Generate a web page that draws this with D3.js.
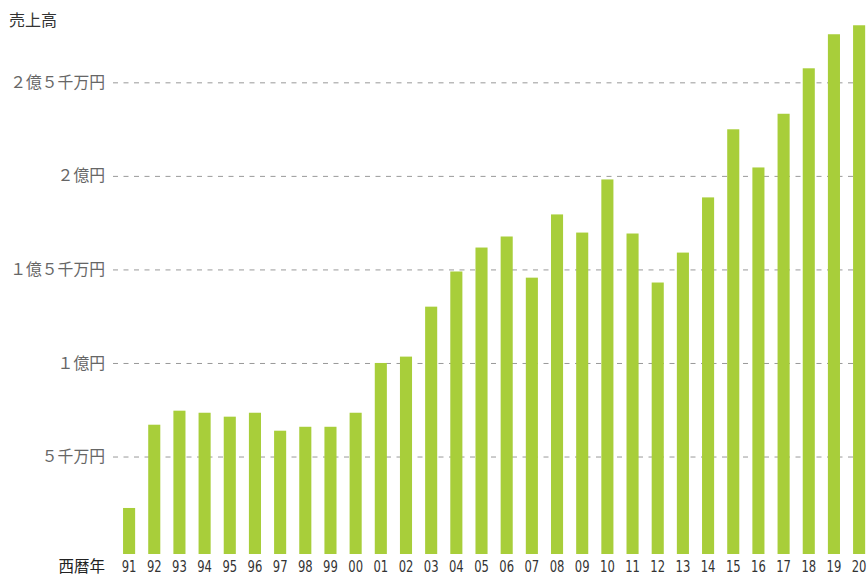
<!DOCTYPE html>
<html>
<head>
<meta charset="utf-8">
<script src="https://cdn.jsdelivr.net/npm/d3@7"></script>
<style>
  body { margin: 0; background: #fff; }
  svg { display: block; }
</style>
</head>
<body>
<div id="chart"></div>
<script>
// years (西暦の下2桁) and sales in 百万円
var years = ["91","92","93","94","95","96","97","98","99","00",
             "01","02","03","04","05","06","07","08","09","10",
             "11","12","13","14","15","16","17","18","19","20"];
var sales = [22.5, 67.0, 74.5, 73.4, 71.3, 73.4, 63.8, 65.9, 65.9, 73.4,
             100.0, 103.4, 130.1, 148.9, 161.7, 167.6, 145.6, 179.4, 169.7, 198.1,
             169.2, 143.0, 159.0, 188.5, 224.9, 204.5, 233.2, 257.5, 275.7, 280.5];
var tickValues = [50, 100, 150, 200, 250];
var tickLabels = ["５千万円", "１億円", "１億５千万円", "２億円", "２億５千万円"];

var width = 867, height = 576;
var jpFont = "'Noto Sans CJK JP', 'Noto Sans', sans-serif";
var narrowFont = "'DejaVu Sans Condensed', 'Noto Sans', sans-serif";

var svg = d3.select("#chart").append("svg")
	.attr("width", width)
	.attr("height", height);

//scales
var x = d3.scaleBand()
	.domain(years)
	.range([116.5, 871.7])
	.paddingInner(0.52)
	.paddingOuter(0.26);

// bars sit slightly below zero, so the domain starts a little negative
var yBase = -2.1;
var y = d3.scaleLinear()
	.domain([yBase, 280])
	.range([554, 26.2]);

//gridlines + labels
var yAxis = svg.append("g")
	.attr("transform", "translate(105,0)")
	.call(d3.axisLeft(y)
		.tickValues(tickValues)
		.tickFormat(function(d, i) { return tickLabels[i]; })
		.tickSize(0)
		.tickPadding(0));
yAxis.select(".domain").remove();
yAxis.selectAll(".tick text")
	.style("font-family", jpFont)
	.style("font-size", "15.8px")
	.style("fill", "#666");
yAxis.selectAll(".tick line")
	.attr("x1", 8)
	.attr("x2", width - 105)
	.style("stroke", "#999")
	.style("stroke-width", 1)
	.style("stroke-dasharray", "5,5.5");

//bars
svg.append("g").selectAll("rect")
	.data(sales)
	.enter()
	.append("rect")
	.attr("x", function(d, i) { return x(years[i]); })
	.attr("y", function(d) { return y(d); })
	.attr("width", x.bandwidth())
	.attr("height", function(d) { return y(yBase) - y(d); })
	.style("fill", "#a8ce3a");

//x labels (narrow digits like the original)
var xAxis = svg.append("g")
	.attr("transform", "translate(0,556)")
	.call(d3.axisBottom(x).tickSize(0).tickPadding(0));
xAxis.select(".domain").remove();
xAxis.selectAll(".tick text")
	.attr("dy", "0.97em")
	.attr("transform", "scale(0.78,1)")
	.style("font-family", narrowFont)
	.style("font-size", "16.5px")
	.style("fill", "#333");

svg.append("text")
	.attr("x", 105)
	.attr("y", 572)
	.attr("text-anchor", "end")
	.style("font-family", jpFont)
	.style("font-size", "15.5px")
	.style("fill", "#222")
	.text("西暦年");

//title
svg.append("text")
	.attr("x", 9)
	.attr("y", 26)
	.style("font-family", jpFont)
	.style("font-size", "16px")
	.style("fill", "#333")
	.text("売上高");
</script>
</body>
</html>
